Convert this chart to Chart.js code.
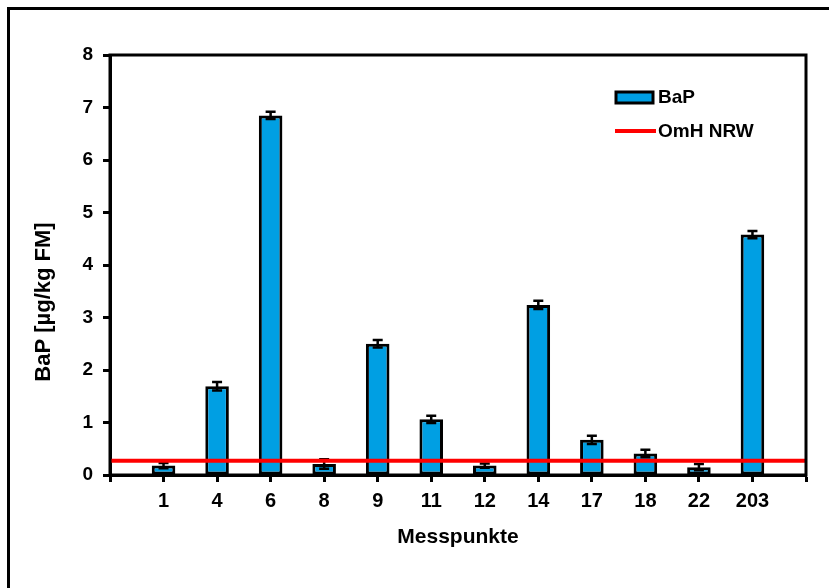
<!DOCTYPE html>
<html>
<head>
<meta charset="utf-8">
<script src="https://cdn.jsdelivr.net/npm/chart.js@4"></script>
<style>
  html, body { margin: 0; padding: 0; background: #fff; overflow: hidden; }
  canvas { display: block; }
</style>
</head>
<body>
<canvas id="chart-bap" width="829" height="588"></canvas>
<script>
//=================================================================
// DATEN
//=================================================================
const messpunkte = ['1', '4', '6', '8', '9', '11', '12', '14', '17', '18', '22', '203'];
const bapWerte = [0.18, 1.69, 6.85, 0.21, 2.50, 1.06, 0.18, 3.24, 0.67, 0.41, 0.15, 4.58];
const bapFehler = [0.05, 0.08, 0.07, 0.09, 0.07, 0.07, 0.04, 0.08, 0.08, 0.07, 0.06, 0.07];
const omhNrw = 0.27; // Orientierungswert NRW
const yTicks = [0, 1, 2, 3, 4, 5, 6, 7, 8];

// leere Kategorie vorne und hinten, damit die Achse wie im Original übersteht
const labels = ['', ...messpunkte, ''];
const FONT = 'Liberation Sans, Arial, sans-serif';

//=================================================================
// PLUGINS
//=================================================================
const fehlerBalken = {
    id: 'fehlerBalken',
    afterDatasetDraw(chart, args) {
        if (args.index !== 0) return;
        const ctx = chart.ctx;
        const y = chart.scales.y;
        ctx.save();
        ctx.strokeStyle = '#000';
        ctx.lineWidth = 2.5;
        args.meta.data.forEach((bar, i) => {
            const v = bapWerte[i - 1];
            const e = bapFehler[i - 1];
            if (v == null) return;
            const top = y.getPixelForValue(v + e);
            const bot = y.getPixelForValue(Math.max(v - e, 0));
            ctx.beginPath();
            ctx.moveTo(bar.x, top); ctx.lineTo(bar.x, bot);
            ctx.moveTo(bar.x - 5, top); ctx.lineTo(bar.x + 5, top);
            ctx.moveTo(bar.x - 5, bot); ctx.lineTo(bar.x + 5, bot);
            ctx.stroke();
        });
        ctx.restore();
    }
};

const rahmenUndText = {
    id: 'rahmenUndText',
    afterDraw(chart) {
        const {ctx, chartArea} = chart;
        ctx.save();
        ctx.strokeStyle = '#000';
        ctx.lineWidth = 3;
        // äußerer Bildrahmen (rechts und unten abgeschnitten)
        ctx.beginPath();
        ctx.moveTo(8.5, chart.height + 5);
        ctx.lineTo(8.5, 8.5);
        ctx.lineTo(chart.width + 5, 8.5);
        ctx.stroke();
        // Rahmen um die Zeichenfläche
        ctx.strokeRect(chartArea.left, chartArea.top, chartArea.right - chartArea.left, chartArea.bottom - chartArea.top);

        // y-Achsentitel
        ctx.fillStyle = '#000';
        ctx.font = 'bold 22px ' + FONT;
        ctx.textAlign = 'center';
        ctx.textBaseline = 'middle';
        ctx.translate(44, 302);
        ctx.rotate(-Math.PI / 2);
        ctx.fillText('BaP [µg/kg FM]', 0, 0);
        ctx.restore();

        // Legende innerhalb der Fläche
        const ds = chart.data.datasets;
        ctx.save();
        ctx.font = 'bold 19px ' + FONT;
        ctx.textAlign = 'left';
        ctx.textBaseline = 'middle';
        ctx.fillStyle = ds[0].backgroundColor;
        ctx.strokeStyle = '#000';
        ctx.lineWidth = 3;
        ctx.fillRect(616, 92, 37, 11);
        ctx.strokeRect(616, 92, 37, 11);
        ctx.fillStyle = '#000';
        ctx.fillText(ds[0].label, 658, 98);
        ctx.strokeStyle = ds[1].borderColor;
        ctx.lineWidth = 4;
        ctx.beginPath();
        ctx.moveTo(615, 131); ctx.lineTo(656, 131);
        ctx.stroke();
        ctx.fillText(ds[1].label, 658, 132);
        ctx.restore();
    }
};

//=================================================================
// CHART BAR
//=================================================================
const chartBap = document.getElementById('chart-bap');

new Chart(chartBap, {
    type: 'bar',
    data: {
        labels: labels,
        datasets: [{
            label: 'BaP',
            data: [null, ...bapWerte, null],
            backgroundColor: '#009FE3',
            borderColor: '#000',
            borderWidth: 3,
            borderSkipped: false,
            categoryPercentage: 1,
            barPercentage: 0.44,
            order: 2
        }, {
            type: 'line',
            label: 'OmH NRW',
            data: labels.map(() => omhNrw),
            borderColor: '#FF0000',
            borderWidth: 4,
            pointRadius: 0,
            order: 1
        }]
    },
    options: {
        responsive: false,
        animation: false,
        devicePixelRatio: 1,
        layout: { padding: { top: 55, right: 23, bottom: 0, left: 0 } },
        plugins: {
            legend: { display: false },
            tooltip: { enabled: false }
        },
        scales: {
            x: {
                offset: false,
                grid: { offset: false, drawOnChartArea: false, drawTicks: true, tickLength: 7, tickWidth: 3, tickColor: '#000' },
                border: { display: true, color: '#000', width: 3 },
                ticks: { color: '#000', font: { family: FONT, size: 20, weight: 'bold' }, padding: 7, maxRotation: 0, autoSkip: false },
                title: { display: true, text: 'Messpunkte', color: '#000', font: { family: FONT, size: 21, weight: 'bold' }, padding: { top: 0, bottom: 38 } },
                afterFit(scale) { scale.height = 113; }
            },
            y: {
                min: 0,
                max: 8,
                afterBuildTicks(scale) { scale.ticks = yTicks.map(v => ({ value: v })); },
                grid: { drawOnChartArea: false, drawTicks: true, tickLength: 7, tickWidth: 3, tickColor: '#000' },
                border: { display: true, color: '#000', width: 3 },
                ticks: { color: '#000', font: { family: FONT, size: 19, weight: 'bold' }, padding: 10 },
                afterFit(scale) { scale.width = 110; }
            }
        }
    },
    plugins: [fehlerBalken, rahmenUndText]
});
</script>
</body>
</html>
